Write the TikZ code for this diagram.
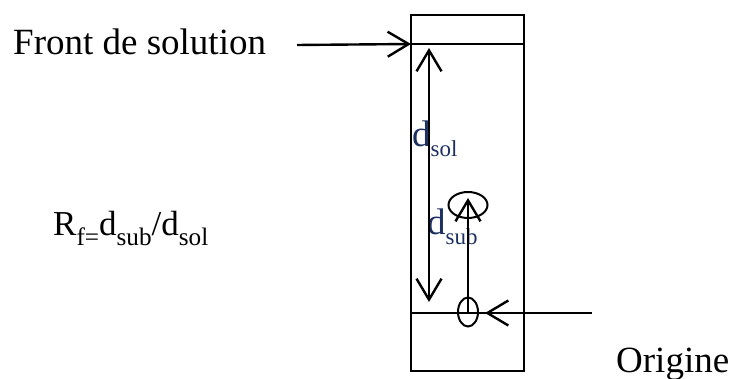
\documentclass[tikz,border=0pt]{standalone}
\usepackage{fontspec}
\setmainfont{Liberation Serif}
\usetikzlibrary{arrows.meta,shapes.geometric}
\definecolor{encre}{RGB}{28,48,96}
\newcommand\indice[2][0.72]{\raisebox{-0.26em}{\scalebox{#1}{#2}}}
\begin{document}
\begin{tikzpicture}[
  x=1pt, y=-1pt,
  line width=2.4pt,
  chevron/.tip={Straight Barb[length=21pt,width=25pt]},
  txt/.style={inner sep=0pt, anchor=base west, font=\fontsize{37}{40}\selectfont},
  spot/.style={draw, ellipse, inner sep=0pt, line width=2pt}
]
\useasboundingbox (0,0) rectangle (731,379);
% labels first, lines on top
\node[txt] (fronttxt) at (12,55) {Front de solution};
\node[txt] (origtxt) at (615,372) {Origine};
\node[txt, text=encre] (dsol) at (411,147) {d\indice[0.62]{sol}};
\node[txt, text=encre] (dsub) at (426,235) {d\indice[0.62]{sub}};
\node[txt, font=\fontsize{35}{38}\selectfont] (rf) at (52,236)
  {R\indice{f=}d\indice{sub}/d\indice{sol}};
% plaque
\draw (411,15) rectangle (524,371);
\coordinate (front) at (411,44);
\coordinate (base) at (411,313);
\draw (front) -- (524,44);
\draw (base) -- (524,313);
\node[spot, minimum width=39pt, minimum height=26pt] (tache) at (468,205) {};
\node[spot, minimum width=20pt, minimum height=29pt] (depot) at (468,312) {};
% arrows
\coordinate (frontstart) at (297,45);
\coordinate (soltop) at (429,48);
\coordinate (solbot) at (429,302);
\coordinate (subtop) at (468,198);
\coordinate (origstart) at (592,313);
\coordinate (origtip) at (485,313);
\draw[-chevron] (frontstart) -- (front);
\draw[chevron-chevron] (soltop) -- (solbot);
\draw[-chevron] (depot.center) -- (subtop);
\draw[-chevron] (origstart) -- (origtip);
\end{tikzpicture}
\end{document}
